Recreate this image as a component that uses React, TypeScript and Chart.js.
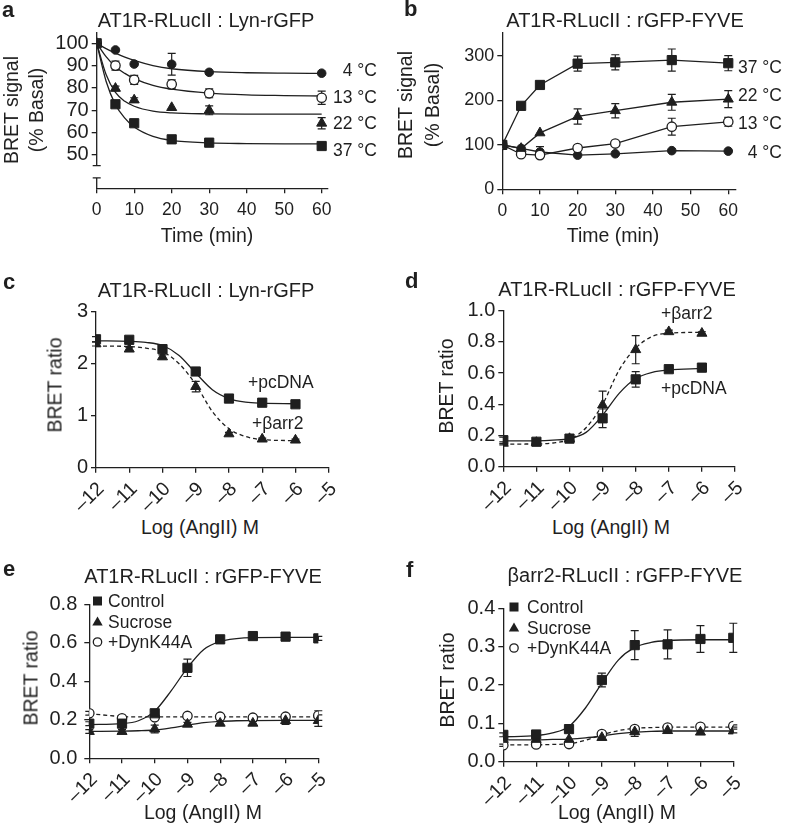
import React, { useEffect, useRef } from 'react';
import { Chart, registerables } from 'chart.js';
Chart.register(...registerables);

const FONT = '"Liberation Sans", Arial, Helvetica, sans-serif';
const K = '#1f1f1f';

// ---------- Panel a : AT1R-RLucII : Lyn-rGFP (time course) ----------
const aTime = [0, 5, 10, 20, 30, 60];
const a4C = [100, 97, 90.7, 90.6, 87, 86.6];
const a4CErr = [0, 0, 0, 4.9, 0, 0];
const a13C = [100, 90, 83.6, 81.6, 77.6, 75.6];
const a13CErr = [0, 2, 2, 2, 2, 3];
const a22C = [100, 79.8, 74.6, 71.2, 70, 64.2];
const a22CErr = [0, 1, 1, 0, 2, 2.5];
const a37C = [100, 72.7, 64.2, 57, 55.5, 54];
const a37CErr = [0, 0, 0, 0, 0, 0];
const aFitTime = [0, 2.5, 5, 7.5, 10, 15, 20, 30, 40, 50, 60];
const a4CFit = [100, 97.6, 95.6, 93.8, 92.3, 90.0, 88.6, 87.3, 86.8, 86.6, 86.5];
const a13CFit = [100, 94, 89.5, 86.5, 84.2, 81.2, 79.5, 77.7, 76.9, 76.6, 76.4];
const a22CFit = [100, 86, 78, 74, 71.8, 69.6, 68.8, 68.4, 68.3, 68.3, 68.3];
const a37CFit = [100, 83, 72.5, 66.5, 62.5, 58.3, 56.5, 55.4, 55.1, 55, 55];
const aXTicks = [0, 10, 20, 30, 40, 50, 60];
const aYTicks = [50, 60, 70, 80, 90, 100];

// ---------- Panel b : AT1R-RLucII : rGFP-FYVE (time course) ----------
const bTime = [0, 5, 10, 20, 30, 45, 60];
const b37C = [100, 188, 235, 283, 286, 291, 284];
const b37CErr = [0, 0, 0, 17, 17, 25, 17];
const b22C = [100, 92, 127, 164, 177, 196, 203];
const b22CErr = [0, 0, 0, 17, 16, 18, 19];
const b13C = [100, 79, 77, 93, 103, 141, 152];
const b13CErr = [0, 0, 0, 0, 0, 19, 10];
const b4C = [100, 92, 84, 77, 80, 87, 86];
const b4CErr = [0, 0, 12, 0, 0, 0, 0];
const bXTicks = [0, 10, 20, 30, 40, 50, 60];
const bYTicks = [0, 100, 200, 300];

// ---------- Panels c-f : dose responses ----------
const doseX7 = [-12, -11, -10, -9, -8, -7, -6];
const doseX8 = [-12, -11, -10, -9, -8, -7, -6, -5];
const fitX11 = [-12, -11, -10.5, -10, -9.5, -9, -8.5, -8, -7.5, -7, -6];
const fitX12 = [-12, -11, -10.5, -10, -9.5, -9, -8.5, -8, -7.5, -7, -6, -5];
const doseTicks = [-12, -11, -10, -9, -8, -7, -6, -5];

const cPcDNA = [2.47, 2.46, 2.28, 1.85, 1.33, 1.25, 1.22];
const cPcDNAErr = [0.05, 0.05, 0.05, 0.06, 0.03, 0.03, 0.03];
const cBarr2 = [2.38, 2.28, 2.13, 1.56, 0.65, 0.55, 0.53];
const cBarr2Err = [0.04, 0.04, 0.04, 0.1, 0.03, 0.02, 0.02];
const cPcDNAFit = [2.44, 2.43, 2.41, 2.35, 2.16, 1.82, 1.5, 1.33, 1.26, 1.24, 1.23];
const cBarr2Fit = [2.34, 2.33, 2.3, 2.23, 2.0, 1.6, 1.08, 0.75, 0.6, 0.54, 0.52];
const cYTicks = [0, 1, 2, 3];

const dPcDNA = [0.17, 0.16, 0.18, 0.31, 0.56, 0.625, 0.635];
const dPcDNAErr = [0.02, 0.01, 0.01, 0.06, 0.05, 0.01, 0.01];
const dBarr2 = [0.15, 0.155, 0.18, 0.395, 0.75, 0.865, 0.855];
const dBarr2Err = [0.01, 0.01, 0.01, 0.09, 0.09, 0.01, 0.01];
const dPcDNAFit = [0.165, 0.166, 0.17, 0.18, 0.22, 0.33, 0.47, 0.565, 0.605, 0.62, 0.63];
const dBarr2Fit = [0.145, 0.146, 0.152, 0.175, 0.25, 0.4, 0.62, 0.76, 0.835, 0.855, 0.862];
const dYTicks = [0, 0.2, 0.4, 0.6, 0.8, 1.0];

const eControl = [0.18, 0.18, 0.234, 0.47, 0.618, 0.635, 0.632, 0.623];
const eControlErr = [0.01, 0.01, 0.01, 0.045, 0.01, 0.01, 0.01, 0.01];
const eSucrose = [0.139, 0.139, 0.152, 0.177, 0.182, 0.182, 0.196, 0.196];
const eSucroseErr = [0.01, 0.01, 0.02, 0.01, 0.01, 0.01, 0.02, 0.03];
const eDyn = [0.234, 0.208, 0.213, 0.22, 0.216, 0.211, 0.216, 0.222];
const eDynErr = [0.01, 0.01, 0.01, 0.01, 0.01, 0.01, 0.01, 0.025];
const eControlFit = [0.175, 0.18, 0.195, 0.245, 0.35, 0.47, 0.565, 0.607, 0.622, 0.627, 0.628, 0.628];
const eSucroseFit = [0.14, 0.141, 0.143, 0.147, 0.158, 0.172, 0.185, 0.192, 0.195, 0.196, 0.197, 0.197];
const eDynFit = [0.232, 0.217, 0.215, 0.215, 0.215, 0.215, 0.215, 0.215, 0.215, 0.215, 0.215, 0.215];
const eYTicks = [0, 0.2, 0.4, 0.6, 0.8];

const fControl = [0.07, 0.071, 0.085, 0.213, 0.304, 0.306, 0.32, 0.323];
const fControlErr = [0.005, 0.005, 0.005, 0.018, 0.038, 0.038, 0.035, 0.038];
const fSucrose = [0.058, 0.058, 0.058, 0.063, 0.078, 0.081, 0.077, 0.08];
const fSucroseErr = [0, 0, 0, 0.005, 0.012, 0.005, 0.005, 0.005];
const fDyn = [0.043, 0.045, 0.046, 0.072, 0.085, 0.089, 0.091, 0.093];
const fDynErr = [0.003, 0.003, 0.003, 0.003, 0.005, 0.003, 0.003, 0.003];
const fControlFit = [0.065, 0.068, 0.075, 0.092, 0.14, 0.205, 0.265, 0.298, 0.311, 0.316, 0.318, 0.318];
const fSucroseFit = [0.057, 0.057, 0.058, 0.059, 0.062, 0.067, 0.073, 0.077, 0.079, 0.08, 0.08, 0.08];
const fDynFit = [0.044, 0.044, 0.045, 0.047, 0.056, 0.07, 0.081, 0.087, 0.089, 0.09, 0.09, 0.09];
const fYTicks = [0, 0.1, 0.2, 0.3, 0.4];

const legendLabels = ['Control', 'Sucrose', '+DynK44A'];

type Style = 'sq' | 'tri' | 'dot' | 'ring';
const pts = (xs: number[], ys: number[]) => xs.map((x, i) => ({ x, y: ys[i] }));

function markers(label: string, xs: number[], ys: number[], style: Style, showLine = false): any {
  const base: any = {
    label, data: pts(xs, ys), showLine, borderColor: K, borderWidth: 1.3,
    pointBorderColor: K, pointBorderWidth: 1, order: 0,
  };
  if (style === 'sq') return { ...base, pointStyle: 'rect', pointRadius: 6.5, pointBackgroundColor: K };
  if (style === 'tri') return { ...base, pointStyle: 'triangle', pointRadius: 5.8, pointBackgroundColor: K };
  if (style === 'dot') return { ...base, pointStyle: 'circle', pointRadius: 4.3, pointBackgroundColor: K };
  return { ...base, pointStyle: 'circle', pointRadius: 4.7, pointBackgroundColor: '#fff', pointBorderWidth: 1.3 };
}
function curve(label: string, xs: number[], ys: number[], dashed = false): any {
  return {
    label, data: pts(xs, ys), showLine: true, pointRadius: 0, borderColor: K, borderWidth: 1.3,
    borderDash: dashed ? [4, 3] : [], cubicInterpolationMode: 'monotone', order: 1,
  };
}

interface Spec {
  box: [number, number, number, number];
  area: [number, number, number, number];
  x: [number, number]; xTicks: number[]; xRot: number; xPad: number; xSize: number; xOff: number;
  y: [number, number]; yTicks: number[]; yDec: number; yPad: number; ySize: number;
  yBreak?: [number, number];
  datasets: any[];
  errs: { xs: number[]; ys: number[]; es: number[] }[];
  legend?: { x: number; ys: number[]; styles: Style[] };
}

const specs: Spec[] = [
  {
    box: [0, 0, 394, 228], area: [96.7, 32.1, 327.3, 188.3],
    x: [0, 61.5], xTicks: aXTicks, xRot: 0, xPad: 6, xSize: 17.5, xOff: 0,
    y: [35.07, 105], yTicks: aYTicks, yDec: 0, yPad: 3, ySize: 20,
    yBreak: [39.7, 45.2],
    datasets: [
      markers('4 °C', aTime, a4C, 'dot'), markers('13 °C', aTime, a13C, 'ring'),
      markers('22 °C', aTime, a22C, 'tri'), markers('37 °C', aTime, a37C, 'sq'),
      curve('4 °C fit', aFitTime, a4CFit), curve('13 °C fit', aFitTime, a13CFit),
      curve('22 °C fit', aFitTime, a22CFit), curve('37 °C fit', aFitTime, a37CFit),
    ],
    errs: [
      { xs: aTime, ys: a4C, es: a4CErr }, { xs: aTime, ys: a13C, es: a13CErr },
      { xs: aTime, ys: a22C, es: a22CErr }, { xs: aTime, ys: a37C, es: a37CErr },
    ],
  },
  {
    box: [394, 0, 394, 228], area: [502.3, 33, 735.8, 189.3],
    x: [0, 62], xTicks: bXTicks, xRot: 0, xPad: 6, xSize: 17.5, xOff: 0,
    y: [0, 352], yTicks: bYTicks, yDec: 0, yPad: 3, ySize: 18,
    datasets: [
      markers('37 °C', bTime, b37C, 'sq', true), markers('22 °C', bTime, b22C, 'tri', true),
      markers('13 °C', bTime, b13C, 'ring', true), markers('4 °C', bTime, b4C, 'dot', true),
    ],
    errs: [
      { xs: bTime, ys: b37C, es: b37CErr }, { xs: bTime, ys: b22C, es: b22CErr },
      { xs: bTime, ys: b13C, es: b13CErr }, { xs: bTime, ys: b4C, es: b4CErr },
    ],
  },
  {
    box: [0, 270, 394, 245], area: [96, 311.7, 328.7, 467.7],
    x: [-12, -5], xTicks: doseTicks, xRot: 45, xPad: 5, xSize: 19.5, xOff: 5,
    y: [0, 3], yTicks: cYTicks, yDec: 0, yPad: 3, ySize: 20,
    datasets: [
      markers('+pcDNA', doseX7, cPcDNA, 'sq'), markers('+βarr2', doseX7, cBarr2, 'tri'),
      curve('+pcDNA fit', fitX11, cPcDNAFit), curve('+βarr2 fit', fitX11, cBarr2Fit, true),
    ],
    errs: [{ xs: doseX7, ys: cPcDNA, es: cPcDNAErr }, { xs: doseX7, ys: cBarr2, es: cBarr2Err }],
  },
  {
    box: [394, 270, 394, 245], area: [503.3, 310.7, 735, 466.7],
    x: [-12, -5], xTicks: doseTicks, xRot: 45, xPad: 5, xSize: 19.5, xOff: 5,
    y: [0, 1], yTicks: dYTicks, yDec: 1, yPad: 3, ySize: 20,
    datasets: [
      markers('+pcDNA', doseX7, dPcDNA, 'sq'), markers('+βarr2', doseX7, dBarr2, 'tri'),
      curve('+pcDNA fit', fitX11, dPcDNAFit), curve('+βarr2 fit', fitX11, dBarr2Fit, true),
    ],
    errs: [{ xs: doseX7, ys: dPcDNA, es: dPcDNAErr }, { xs: doseX7, ys: dBarr2, es: dBarr2Err }],
  },
  {
    box: [0, 555, 394, 250], area: [89.3, 604.3, 318.3, 758.3],
    x: [-12, -5], xTicks: doseTicks, xRot: 45, xPad: 5, xSize: 19.5, xOff: 5,
    y: [0, 0.8], yTicks: eYTicks, yDec: 1, yPad: 7, ySize: 20,
    datasets: [
      markers('Control', doseX8, eControl, 'sq'), markers('Sucrose', doseX8, eSucrose, 'tri'),
      markers('+DynK44A', doseX8, eDyn, 'ring'),
      curve('Control fit', fitX12, eControlFit), curve('Sucrose fit', fitX12, eSucroseFit),
      curve('+DynK44A fit', fitX12, eDynFit, true),
    ],
    errs: [
      { xs: doseX8, ys: eControl, es: eControlErr }, { xs: doseX8, ys: eSucrose, es: eSucroseErr },
      { xs: doseX8, ys: eDyn, es: eDynErr },
    ],
    legend: { x: 97.5, ys: [601, 622, 642], styles: ['sq', 'tri', 'ring'] },
  },
  {
    box: [394, 555, 394, 250], area: [503.3, 608.3, 733.3, 761.7],
    x: [-12, -5], xTicks: doseTicks, xRot: 45, xPad: 5, xSize: 19.5, xOff: 5,
    y: [0, 0.4], yTicks: fYTicks, yDec: 1, yPad: 3, ySize: 20,
    datasets: [
      markers('Control', doseX8, fControl, 'sq'), markers('Sucrose', doseX8, fSucrose, 'tri'),
      markers('+DynK44A', doseX8, fDyn, 'ring'),
      curve('Control fit', fitX12, fControlFit), curve('Sucrose fit', fitX12, fSucroseFit),
      curve('+DynK44A fit', fitX12, fDynFit, true),
    ],
    errs: [
      { xs: doseX8, ys: fControl, es: fControlErr }, { xs: doseX8, ys: fSucrose, es: fSucroseErr },
      { xs: doseX8, ys: fDyn, es: fDynErr },
    ],
    legend: { x: 514, ys: [607, 628, 648], styles: ['sq', 'tri', 'ring'] },
  },
];

const fmtNum = (v: number, dec: number) => {
  const s = Math.abs(v).toFixed(dec);
  return v < 0 ? '\u2013' + s : s;
};

function drawShape(ctx: CanvasRenderingContext2D, style: Style, x: number, y: number) {
  ctx.save();
  ctx.fillStyle = K; ctx.strokeStyle = K; ctx.lineWidth = 1.3;
  if (style === 'sq') ctx.fillRect(x - 4.5, y - 4.5, 9, 9);
  else if (style === 'tri') {
    ctx.beginPath(); ctx.moveTo(x, y - 5.5); ctx.lineTo(x + 5.2, y + 3.6); ctx.lineTo(x - 5.2, y + 3.6);
    ctx.closePath(); ctx.fill();
  } else {
    ctx.beginPath(); ctx.arc(x, y, 4.2, 0, Math.PI * 2); ctx.fillStyle = '#fff'; ctx.fill(); ctx.stroke();
  }
  ctx.restore();
}

function buildChart(canvas: HTMLCanvasElement, s: Spec) {
  const [bx, by, bw, bh] = s.box;
  const [left, top, right, bottom] = s.area;
  const errPlugin = {
    id: 'errbars',
    beforeDatasetsDraw(chart: any) {
      const { ctx, scales } = chart;
      ctx.save(); ctx.strokeStyle = K; ctx.lineWidth = 1.2;
      s.errs.forEach((g) => {
        g.xs.forEach((xv, i) => {
          const e = g.es[i];
          if (!e) return;
          const px = scales.x.getPixelForValue(xv);
          const y1 = scales.y.getPixelForValue(g.ys[i] + e);
          const y2 = scales.y.getPixelForValue(g.ys[i] - e);
          ctx.beginPath();
          ctx.moveTo(px, y1); ctx.lineTo(px, y2);
          ctx.moveTo(px - 4, y1); ctx.lineTo(px + 4, y1);
          ctx.moveTo(px - 4, y2); ctx.lineTo(px + 4, y2);
          ctx.stroke();
        });
      });
      ctx.restore();
    },
  };
  const extraPlugin = {
    id: 'extras',
    afterDraw(chart: any) {
      const { ctx, scales, chartArea } = chart;
      if (s.yBreak) {
        const x = chartArea.left;
        const yTop = scales.y.getPixelForValue(s.y[1]);
        const yBot = scales.y.getPixelForValue(s.y[0]);
        const b1 = scales.y.getPixelForValue(s.yBreak[1]);
        const b0 = scales.y.getPixelForValue(s.yBreak[0]);
        ctx.save(); ctx.strokeStyle = K; ctx.lineWidth = 1.3;
        ctx.beginPath();
        ctx.moveTo(x, yTop); ctx.lineTo(x, b1); ctx.moveTo(x - 4, b1); ctx.lineTo(x + 4, b1);
        ctx.moveTo(x, b0); ctx.lineTo(x, yBot); ctx.moveTo(x - 4, b0); ctx.lineTo(x + 4, b0);
        ctx.stroke(); ctx.restore();
      }
      if (s.legend) {
        s.legend.styles.forEach((st, i) => drawShape(ctx, st, s.legend!.x - bx, s.legend!.ys[i] - by));
      }
    },
  };
  return new Chart(canvas, {
    type: 'scatter',
    data: { datasets: s.datasets },
    plugins: [errPlugin, extraPlugin],
    options: {
      animation: false,
      responsive: false,
      maintainAspectRatio: false,
      layout: { padding: { left: 0, top: top - by, right: bx + bw - right, bottom: 0 } },
      plugins: { legend: { display: false }, tooltip: { enabled: false }, title: { display: false } },
      scales: {
        x: {
          type: 'linear', min: s.x[0], max: s.x[1], offset: false,
          afterBuildTicks: (sc: any) => { sc.ticks = s.xTicks.map((v) => ({ value: v })); },
          afterFit: (sc: any) => { sc.height = by + bh - bottom; },
          grid: { drawOnChartArea: false, drawTicks: true, tickLength: 5, color: K, lineWidth: 1.3 },
          border: { display: true, color: K, width: 1.3 },
          ticks: {
            autoSkip: false, maxRotation: s.xRot, minRotation: s.xRot, padding: s.xPad,
            labelOffset: s.xOff,
            color: K, font: { family: FONT, size: s.xSize }, callback: (v: any) => fmtNum(Number(v), 0),
          },
        },
        y: {
          type: 'linear', min: s.y[0], max: s.y[1],
          afterBuildTicks: (sc: any) => { sc.ticks = s.yTicks.map((v) => ({ value: v })); },
          afterFit: (sc: any) => { sc.width = left - bx; },
          grid: { drawOnChartArea: false, drawTicks: true, tickLength: 5, color: K, lineWidth: 1.3 },
          border: { display: !s.yBreak, color: K, width: 1.3 },
          ticks: {
            padding: s.yPad, color: K, font: { family: FONT, size: s.ySize },
            callback: (v: any) => fmtNum(Number(v), s.yDec),
          },
        },
      },
    } as any,
  });
}

type Anchor = 'start' | 'middle' | 'end';
function T(props: { x: number; y: number; s: string; size?: number; anchor?: Anchor; bold?: boolean; rot?: boolean; lh?: number }) {
  const { x, y, s, size = 17.5, anchor = 'start', bold = false, rot = false, lh } = props;
  const tx = anchor === 'start' ? '0' : anchor === 'middle' ? '-50%' : '-100%';
  return (
    <div
      style={{
        position: 'absolute', left: x, top: y,
        transform: rot ? 'translate(-50%,-50%) rotate(-90deg)' : `translate(${tx},-50%)`,
        fontFamily: FONT, fontSize: size, fontWeight: bold ? 700 : 400, color: K,
        whiteSpace: 'pre', lineHeight: lh ? `${lh}px` : 'normal', textAlign: 'center',
      }}
    >
      {s}
    </div>
  );
}

const TITLE = 20;
const AXT = 19.5;

export default function App() {
  const refs = useRef<(HTMLCanvasElement | null)[]>([]);
  useEffect(() => {
    const charts = specs.map((s, i) => buildChart(refs.current[i]!, s));
    return () => charts.forEach((c) => c.destroy());
  }, []);
  return (
    <div style={{ position: 'absolute', left: 0, top: 0, width: 788, height: 830, background: '#fff', overflow: 'hidden' }}>
      {specs.map((s, i) => (
        <canvas
          key={i}
          ref={(el) => { refs.current[i] = el; }}
          width={s.box[2]}
          height={s.box[3]}
          style={{ position: 'absolute', left: s.box[0], top: s.box[1], width: s.box[2], height: s.box[3] }}
        />
      ))}
      {/* panel letters */}
      <T x={2} y={10} s="a" size={22} bold />
      <T x={404} y={9} s="b" size={22} bold />
      <T x={3} y={282} s="c" size={22} bold />
      <T x={405} y={281} s="d" size={22} bold />
      <T x={3} y={569} s="e" size={22} bold />
      <T x={406} y={570} s="f" size={22} bold />
      {/* titles */}
      <T x={206} y={20} s="AT1R-RLucII : Lyn-rGFP" size={TITLE} anchor="middle" />
      <T x={625} y={20} s="AT1R-RLucII : rGFP-FYVE" size={TITLE} anchor="middle" />
      <T x={206} y={290} s="AT1R-RLucII : Lyn-rGFP" size={TITLE} anchor="middle" />
      <T x={617} y={289} s="AT1R-RLucII : rGFP-FYVE" size={TITLE} anchor="middle" />
      <T x={203} y={576} s="AT1R-RLucII : rGFP-FYVE" size={TITLE} anchor="middle" />
      <T x={625} y={575} s="βarr2-RLucII : rGFP-FYVE" size={TITLE} anchor="middle" />
      {/* axis titles */}
      <T x={207} y={235} s="Time (min)" size={AXT} anchor="middle" />
      <T x={613} y={235} s="Time (min)" size={AXT} anchor="middle" />
      <T x={200} y={527} s="Log (AngII) M" size={AXT} anchor="middle" />
      <T x={611} y={527} s="Log (AngII) M" size={AXT} anchor="middle" />
      <T x={203} y={812} s="Log (AngII) M" size={AXT} anchor="middle" />
      <T x={617} y={812} s="Log (AngII) M" size={AXT} anchor="middle" />
      <T x={24} y={110} s={'BRET signal\n(% Basal)'} size={AXT} rot lh={25} />
      <T x={419} y={105} s={'BRET signal\n(% Basal)'} size={AXT} rot lh={27} />
      <T x={55} y={385} s="BRET ratio" size={AXT} rot />
      <T x={446} y={386} s="BRET ratio" size={AXT} rot />
      <T x={31} y={678} s="BRET ratio" size={AXT} rot />
      <T x={447} y={680} s="BRET ratio" size={AXT} rot />
      {/* series annotations */}
      <T x={377} y={70} s="4 °C" anchor="end" />
      <T x={377} y={97} s="13 °C" anchor="end" />
      <T x={377} y={123} s="22 °C" anchor="end" />
      <T x={377} y={150} s="37 °C" anchor="end" />
      <T x={782} y={67} s="37 °C" anchor="end" />
      <T x={782} y={95} s="22 °C" anchor="end" />
      <T x={782} y={123} s="13 °C" anchor="end" />
      <T x={782} y={152} s="4 °C" anchor="end" />
      <T x={248} y={382} s="+pcDNA" />
      <T x={252} y={423} s="+βarr2" />
      <T x={661} y={313} s="+βarr2" />
      <T x={661} y={388} s="+pcDNA" />
      {/* legends */}
      {legendLabels.map((l, i) => <T key={'e' + i} x={108} y={[601, 622, 642][i]} s={l} />)}
      {legendLabels.map((l, i) => <T key={'f' + i} x={527} y={[607, 628, 648][i]} s={l} />)}
    </div>
  );
}
